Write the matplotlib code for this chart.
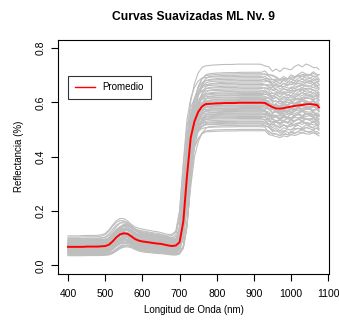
import numpy as np
import matplotlib
matplotlib.use("Agg")
import matplotlib.pyplot as plt

plt.rcParams['font.family'] = ['Liberation Sans', 'DejaVu Sans']

# ---- data ----
wavelengths = [400, 410, 420, 430, 440, 450, 460, 470, 480, 490,
               500, 510, 520, 530, 540, 550, 560, 570, 580, 590,
               600, 610, 620, 630, 640, 650, 660, 670, 680, 690,
               700, 710, 720, 730, 740, 750, 760, 770, 780, 790,
               800, 810, 820, 830, 840, 850, 860, 870, 880, 890,
               900, 910, 920, 930, 940, 950, 960, 970, 980, 990,
               1000, 1010, 1020, 1030, 1040, 1050, 1060, 1070, 1075]
mean_refl = [0.068, 0.068, 0.068, 0.068, 0.068, 0.069, 0.069, 0.069, 0.069, 0.070,
             0.071, 0.076, 0.088, 0.103, 0.114, 0.118, 0.116, 0.107, 0.097, 0.091,
             0.088, 0.086, 0.084, 0.082, 0.080, 0.079, 0.076, 0.073, 0.071, 0.073,
             0.085, 0.160, 0.330, 0.470, 0.530, 0.565, 0.585, 0.594, 0.595, 0.596,
             0.597, 0.597, 0.598, 0.598, 0.598, 0.598, 0.599, 0.599, 0.599, 0.599,
             0.599, 0.599, 0.599, 0.598, 0.590, 0.583, 0.578, 0.577, 0.579, 0.582,
             0.585, 0.587, 0.589, 0.591, 0.593, 0.594, 0.593, 0.590, 0.582]

# per-curve levels read from the gray bundle
nir_levels = [0.74, 0.71, 0.705, 0.70, 0.695, 0.69, 0.685, 0.68, 0.675, 0.67,
              0.665, 0.66, 0.655, 0.65, 0.645, 0.64, 0.635, 0.632, 0.628, 0.625,
              0.62, 0.617, 0.613, 0.61, 0.607, 0.603, 0.60, 0.597, 0.594, 0.59,
              0.587, 0.584, 0.58, 0.577, 0.574, 0.57, 0.567, 0.564, 0.56, 0.557,
              0.554, 0.55, 0.547, 0.544, 0.54, 0.535, 0.53, 0.527, 0.523, 0.52,
              0.515, 0.51, 0.50, 0.495]
tail_levels = [0.725, 0.70, 0.69, 0.695, 0.68, 0.685, 0.67, 0.675, 0.66, 0.665,
               0.65, 0.655, 0.64, 0.645, 0.63, 0.635, 0.62, 0.625, 0.615, 0.61,
               0.605, 0.60, 0.605, 0.595, 0.59, 0.595, 0.585, 0.58, 0.585, 0.575,
               0.57, 0.575, 0.565, 0.56, 0.565, 0.555, 0.55, 0.555, 0.545, 0.54,
               0.545, 0.535, 0.53, 0.535, 0.525, 0.52, 0.515, 0.52, 0.505, 0.50,
               0.495, 0.49, 0.485, 0.48]
vis_levels = [0.060, 0.095, 0.050, 0.080, 0.105, 0.045, 0.070, 0.090, 0.040, 0.075,
              0.100, 0.055, 0.085, 0.065, 0.110, 0.048, 0.072, 0.092, 0.038, 0.078,
              0.062, 0.098, 0.052, 0.082, 0.068, 0.088, 0.044, 0.074, 0.058, 0.094,
              0.066, 0.084, 0.050, 0.076, 0.064, 0.086, 0.042, 0.071, 0.056, 0.090,
              0.061, 0.079, 0.047, 0.083, 0.067, 0.073, 0.053, 0.081, 0.059, 0.069,
              0.036, 0.077, 0.063, 0.057]
green_gain = [1.0, 1.2, 0.8, 1.1, 1.3, 0.7, 1.0, 1.2, 0.6, 1.0,
              1.3, 0.8, 1.1, 0.9, 1.4, 0.7, 1.0, 1.2, 0.6, 1.1,
              0.9, 1.3, 0.8, 1.1, 1.0, 1.2, 0.7, 1.0, 0.8, 1.2,
              0.9, 1.1, 0.8, 1.0, 0.9, 1.1, 0.6, 1.0, 0.8, 1.2,
              0.9, 1.0, 0.7, 1.1, 1.0, 1.0, 0.8, 1.1, 0.9, 1.0,
              0.6, 1.0, 0.9, 0.8]
edge_shift = [-6, 4, -2, 7, -8, 2, -4, 5, 8, -6,
              0, 3, -3, 6, -7, 1, -5, 4, 7, -2,
              2, -6, 5, -1, 3, -4, 8, 0, -3, 6,
              -5, 1, 4, -7, 2, -2, 6, -4, 3, -1,
              5, -6, 0, 7, -3, 2, -5, 4, 1, -2,
              6, -4, 3, 0]
tail_texture = [0.0, 0.006, -0.004, 0.008, -0.003, 0.007, 0.0, -0.006,
                0.004, 0.008, -0.003, 0.006, 0.001, -0.004, 0.007, 0.0]
texture_sign = [1, -1, 0.5, -0.5, 1.5, -1, 0.8, -1.2, 1, 0.3]

# ---- build curves ----
wl = np.array(wavelengths, dtype=float)
mean = np.array(mean_refl)
vis_end = 0.071
plateau = 0.598
tail_w = np.clip((wl - 925) / 20.0, 0, 1)
tail_idx = np.where(wl >= 930)[0]

fig = plt.figure(figsize=(3.39, 3.26), dpi=100)
ax = fig.add_axes([58/339, 1-274/326, 271/339, 234.5/326])

for i in range(len(nir_levels)):
    m_i = np.interp(wl - edge_shift[i], wl, mean)
    w = np.clip((m_i - vis_end) / (plateau - vis_end), 0, 1)
    w[wl > 800] = 1.0
    vis_curve = vis_levels[i] + (m_i - 0.069) * green_gain[i]
    nir_scale = (1 - tail_w) * (nir_levels[i] / plateau) + tail_w * (tail_levels[i] / 0.585)
    nir_curve = m_i * nir_scale
    tex = np.zeros_like(wl)
    tex[tail_idx] = np.array(tail_texture[:len(tail_idx)]) * texture_sign[i % len(texture_sign)]
    if i % 2:
        tex[tail_idx] = np.roll(tex[tail_idx], 3)
    curve = (1 - w) * vis_curve + w * nir_curve + tex
    ax.plot(wl, curve, color='#BEBEBE', lw=0.8, zorder=1)

ax.plot(wl, mean, color='#FF0000', lw=1.4, zorder=3, label='Promedio')

ax.set_xlim(373, 1102)
ax.set_ylim(-0.032, 0.832)
ax.set_xticks([400, 500, 600, 700, 800, 900, 1000, 1100])
ax.set_yticks([0.0, 0.2, 0.4, 0.6, 0.8])
ax.set_yticklabels(['0.0', '0.2', '0.4', '0.6', '0.8'], rotation=90, va='center')
ax.tick_params(direction='out', length=5, width=0.8, labelsize=7.5, colors='black')
ax.tick_params(axis='x', pad=6)
ax.tick_params(axis='y', pad=4)
for s in ax.spines.values():
    s.set_linewidth(0.8)

ax.set_title('Curvas Suavizadas ML Nv. 9', fontsize=8.7, fontweight='bold', pad=14)
ax.set_xlabel('Longitud de Onda (nm)', fontsize=7, labelpad=4)
ax.set_ylabel('Reflectancia (%)', fontsize=7, labelpad=8)

leg = ax.legend(loc='upper left', bbox_to_anchor=(0.038, 0.846), borderaxespad=0,
                fontsize=7, frameon=True, fancybox=False, shadow=False,
                handlelength=2.0, handletextpad=0.8, borderpad=0.7)
leg.get_frame().set_edgecolor('black')
leg.get_frame().set_linewidth(0.8)
for h in leg.get_lines():
    h.set_linewidth(1.0)

fig.savefig('out.png', dpi=100)
